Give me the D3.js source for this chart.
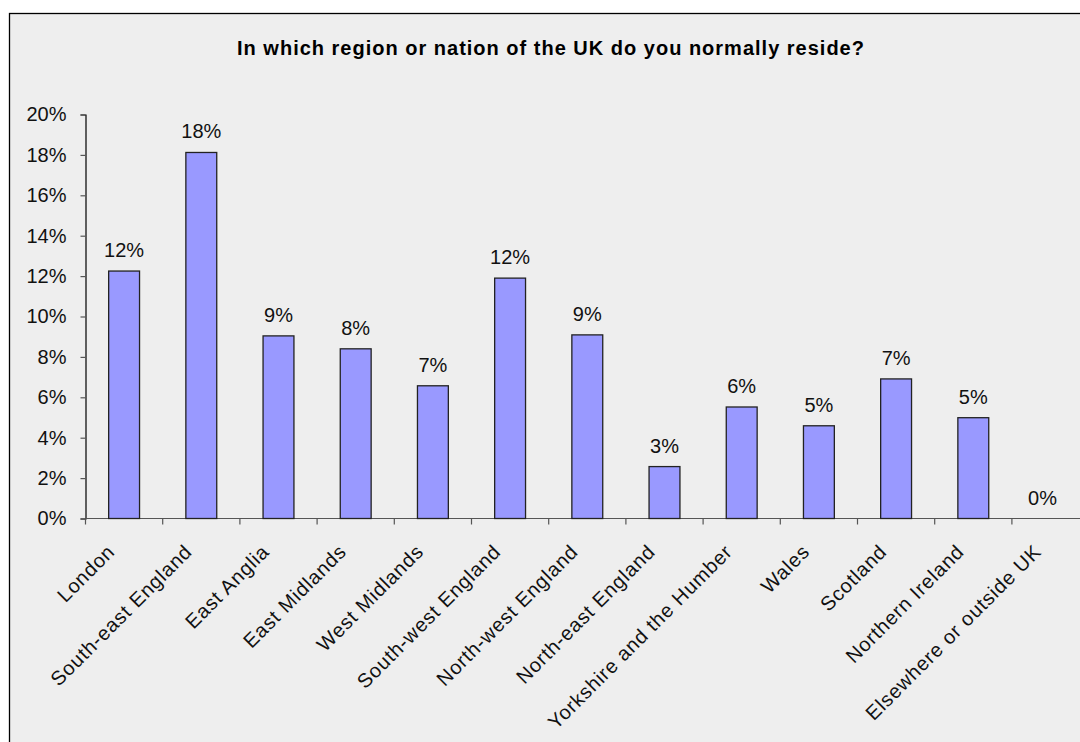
<!DOCTYPE html>
<html><head><meta charset="utf-8">
<script src="https://cdn.jsdelivr.net/npm/d3@7"></script>
<style>body{margin:0;background:#fff;}svg{display:block;}text{font-family:"Liberation Sans",Arial,sans-serif;}</style>
</head><body>
<svg id="c" width="1080" height="742"></svg>
<script>
const categories = ["London","South-east England","East Anglia","East Midlands","West Midlands","South-west England","North-west England","North-east England","Yorkshire and the Humber","Wales","Scotland","Northern Ireland","Elsewhere or outside UK"];
const values = [12.25, 18.12, 9.04, 8.4, 6.57, 11.9, 9.09, 2.57, 5.52, 4.59, 6.91, 4.99, 0];
const yTicks = [0,2,4,6,8,10,12,14,16,18,20];
const title = "In which region or nation of the UK do you normally reside?";

const svg = d3.select("#c");
svg.append("rect").attr("x",9.5).attr("y",13.5).attr("width",1100).attr("height",800)
  .attr("fill","#eeeeee").attr("stroke","#000").attr("stroke-width",1.3);

const x0 = 85.5, y0 = 518.5, y1 = 114.5;
const band = 77.2;
const x = d3.scaleBand().domain(categories).range([x0, x0 + band*categories.length]).paddingInner(0.6).paddingOuter(0.3);
const y = d3.scaleLinear().domain([0,20]).range([y0,y1]);

svg.append("text").attr("x",551).attr("y",55).attr("text-anchor","middle")
  .attr("font-size",20).attr("font-weight","bold").attr("letter-spacing",1).attr("fill","#000").text(title);

const yAxis = svg.append("g").attr("transform",`translate(${x0},0)`)
  .call(d3.axisLeft(y).tickValues(yTicks).tickFormat(d=>d+"%").tickSize(5).tickPadding(14));
yAxis.select(".domain").attr("stroke","#000").attr("stroke-width",1.2);
yAxis.selectAll(".tick line").attr("stroke","#555").attr("stroke-width",1.2);
yAxis.selectAll("text").attr("font-size",20).attr("fill","#111").attr("font-family","Liberation Sans, Arial, sans-serif");

svg.append("line").attr("x1",x0).attr("x2",1080).attr("y1",y0).attr("y2",y0).attr("stroke","#555").attr("stroke-width",1.2);
const tickXs = d3.range(categories.length+1).map(i=>x0+i*band);
svg.selectAll(".xt").data(tickXs).join("line").attr("x1",d=>d).attr("x2",d=>d)
  .attr("y1",y0).attr("y2",y0+6).attr("stroke","#555").attr("stroke-width",1.2);

svg.selectAll(".bar").data(values).join("rect")
  .attr("x",(d,i)=>x(categories[i])).attr("width",x.bandwidth())
  .attr("y",d=>y(d)).attr("height",d=>y0-y(d))
  .attr("fill","#9999ff").attr("stroke","#222").attr("stroke-width",1.3)
  .style("display",d=>d>0?null:"none");

svg.selectAll(".vl").data(values).join("text")
  .attr("x",(d,i)=>x(categories[i])+x.bandwidth()/2 - (d>0?0:8)).attr("y",d=>y(d)-14)
  .attr("text-anchor","middle").attr("font-size",20).attr("fill","#111")
  .text(d=>Math.round(d)+"%");

svg.selectAll(".cl").data(categories).join("text")
  .attr("text-anchor","end").attr("font-size",20).attr("letter-spacing",0.8).attr("fill","#111")
  .attr("transform",d=>`translate(${x(d)+x.bandwidth()/2-13},548) rotate(-45)`)
  .attr("dy","0.35em")
  .text(d=>d);
</script>
</body></html>
